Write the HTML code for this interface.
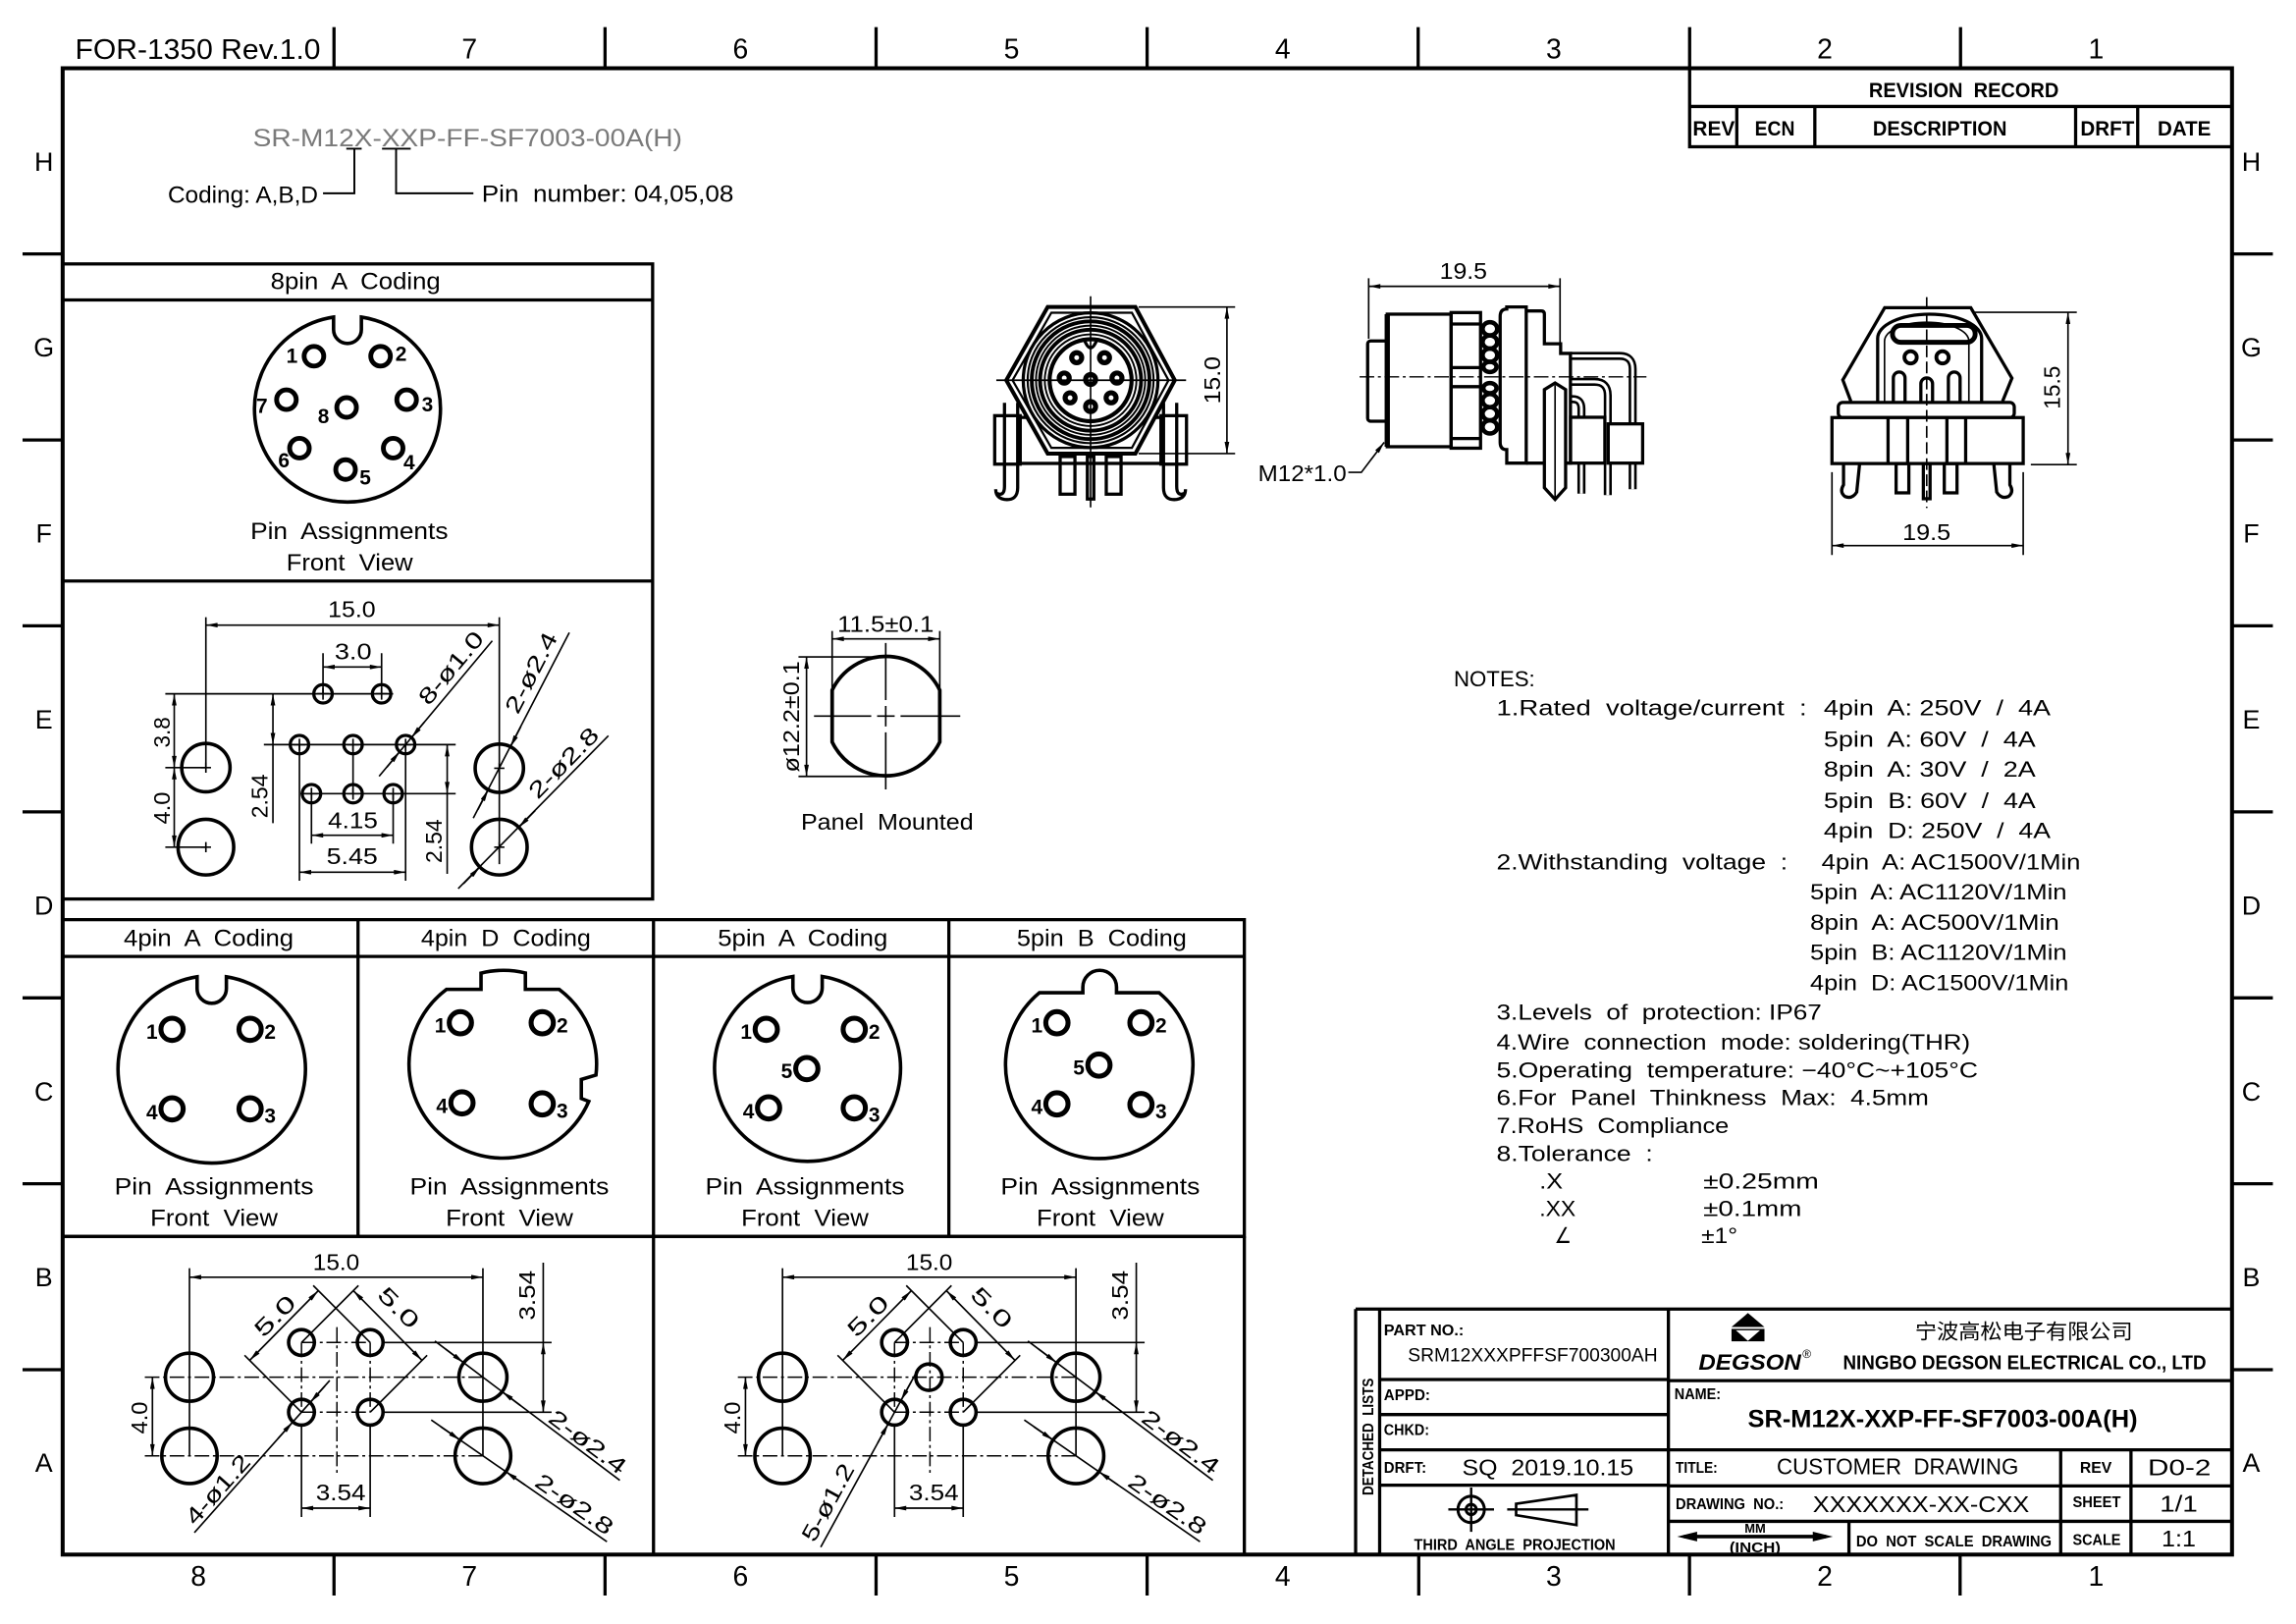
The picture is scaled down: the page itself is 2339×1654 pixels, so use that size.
<!DOCTYPE html>
<html><head><meta charset="utf-8"><title>SR-M12X-XXP-FF-SF7003-00A(H)</title>
<style>
html,body{margin:0;padding:0;background:#fff;overflow:hidden}
svg{display:block}
.d{stroke:#000;stroke-width:1.1;fill:none}
.m{stroke:#000;stroke-width:2.2;fill:none}
.k{stroke:#000;stroke-width:2.7;fill:none}
.c{stroke:#000;stroke-width:1;fill:none;stroke-dasharray:10 2.5 2 2.5}
.r{stroke:#000;stroke-width:3.3;fill:none}
.aa{marker-start:url(#a);marker-end:url(#a)}
.ae{marker-end:url(#a)}
text{font-family:"Liberation Sans","DejaVu Sans","Noto Sans CJK SC",sans-serif;fill:#000;stroke:none;white-space:pre}
.b{font-weight:bold}
</style></head><body>
<svg xmlns="http://www.w3.org/2000/svg" width="2339" height="1654" viewBox="0 0 1568 1108.8" preserveAspectRatio="none">
<defs>
<marker id="a" viewBox="0 0 10 4" refX="10" refY="2" markerWidth="9" markerHeight="3.2" markerUnits="userSpaceOnUse" orient="auto-start-reverse"><path d="M0,0 L10,2 L0,4 z" fill="#000"/></marker>
</defs>
<rect width="1568" height="1108.8" fill="#fff"/>

<!-- FRAME -->
<rect class="k" x="42.8" y="46.6" width="1481.5" height="1014.8"/>
<path class="m" d="M228.1,18.5V46.6M413.2,18.5V46.6M598.3,18.5V46.6M783.4,18.5V46.6M968.5,18.5V46.6M1153.9,18.5V46.6M1338.9,18.5V46.6"/>
<path class="m" d="M228.1,1061.4V1089.4M413.2,1061.4V1089.4M598.3,1061.4V1089.4M783.4,1061.4V1089.4M968.9,1061.4V1089.4M1153.8,1061.4V1089.4M1338.6,1061.4V1089.4"/>
<path class="m" d="M15.4,173.4H42.8M15.4,300.4H42.8M15.4,427.3H42.8M15.4,554.3H42.8M15.4,681.3H42.8M15.4,808.2H42.8M15.4,935.2H42.8"/>
<path class="m" d="M1524.3,173.4H1552.2M1524.3,300.4H1552.2M1524.3,427.3H1552.2M1524.3,554.3H1552.2M1524.3,681.3H1552.2M1524.3,808.2H1552.2M1524.3,935.2H1552.2"/>
<g font-size="19" text-anchor="middle">
<text x="320.6" y="39.8">7</text><text x="505.7" y="39.8">6</text><text x="690.8" y="39.8">5</text><text x="876" y="39.8">4</text><text x="1061.1" y="39.8">3</text><text x="1246.2" y="39.8">2</text><text x="1431.5" y="39.8">1</text>
<text x="135.5" y="1082.7">8</text><text x="320.6" y="1082.7">7</text><text x="505.7" y="1082.7">6</text><text x="690.8" y="1082.7">5</text><text x="876" y="1082.7">4</text><text x="1061.1" y="1082.7">3</text><text x="1246.2" y="1082.7">2</text><text x="1431.5" y="1082.7">1</text>
</g>
<g font-size="18" text-anchor="middle">
<text x="30" y="116.6">H</text><text x="30" y="243.5">G</text><text x="30" y="370.5">F</text><text x="30" y="497.4">E</text><text x="30" y="624.4">D</text><text x="30" y="751.4">C</text><text x="30" y="878.3">B</text><text x="30" y="1004.9">A</text>
<text x="1537.5" y="116.6">H</text><text x="1537.5" y="243.5">G</text><text x="1537.5" y="370.5">F</text><text x="1537.5" y="497.4">E</text><text x="1537.5" y="624.4">D</text><text x="1537.5" y="751.4">C</text><text x="1537.5" y="878.3">B</text><text x="1537.5" y="1004.9">A</text>
</g>
<text x="51.3" y="40.3" font-size="19" textLength="167.6" lengthAdjust="spacingAndGlyphs">FOR-1350 Rev.1.0</text>

<!-- PART NUMBER EXPLANATION -->
<text x="172.7" y="99.9" font-size="16.5" fill="#7a7a7a" style="fill:#7a7a7a" textLength="293.2" lengthAdjust="spacingAndGlyphs">SR-M12X-XXP-FF-SF7003-00A(H)</text>
<path class="d" d="M236.5,101.5H247M260.9,101.5H280.5M242,101.5V132H220.6M270.5,101.5V132H323.3" style="stroke-width:1.3"/>
<text x="114.6" y="138.6" font-size="16" textLength="102.6" lengthAdjust="spacingAndGlyphs">Coding: A,B,D</text>
<text x="329" y="137.8" font-size="16" textLength="172" lengthAdjust="spacingAndGlyphs">Pin  number: 04,05,08</text>

<!-- REVISION RECORD -->
<rect class="m" x="1153.9" y="46.7" width="370.4" height="53.5"/>
<path class="m" d="M1153.9,72.7H1524.3M1186.1,72.7V100.2M1239.4,72.7V100.2M1417.5,72.7V100.2M1459.9,72.7V100.2"/>
<g class="b" font-size="14.5">
<text x="1276.3" y="66.3" textLength="129.7" lengthAdjust="spacingAndGlyphs">REVISION  RECORD</text>
<text x="1156" y="92.5" textLength="28.7" lengthAdjust="spacingAndGlyphs">REV</text>
<text x="1198.4" y="92.5" textLength="27.3" lengthAdjust="spacingAndGlyphs">ECN</text>
<text x="1279" y="92.5" textLength="91.5" lengthAdjust="spacingAndGlyphs">DESCRIPTION</text>
<text x="1420.8" y="92.5" textLength="36.8" lengthAdjust="spacingAndGlyphs">DRFT</text>
<text x="1473.5" y="92.5" textLength="36.4" lengthAdjust="spacingAndGlyphs">DATE</text>
</g>

<!-- 8PIN BOX -->
<rect class="m" x="42.8" y="180.2" width="402.9" height="433.6"/>
<path class="m" d="M42.8,204.8H445.7M42.8,396.7H445.7"/>
<text x="242.8" y="197.4" font-size="16" text-anchor="middle" textLength="116" lengthAdjust="spacingAndGlyphs">8pin  A  Coding</text>
<path class="m" style="stroke-width:2.4" d="M227.8,216.5 L227.8,225 A9.5,9.5 0 0 0 246.8,225 L246.8,216.5 A63.5,63.5 0 1 1 227.8,216.5 Z"/>
<g class="r" style="stroke-width:3.3">
<circle cx="214.4" cy="243.2" r="6.7"/><circle cx="259.9" cy="243.2" r="6.7"/><circle cx="195.6" cy="272.9" r="6.7"/><circle cx="236.7" cy="278.2" r="6.7"/><circle cx="277.7" cy="272.9" r="6.7"/><circle cx="204.5" cy="306" r="6.7"/><circle cx="268.5" cy="306" r="6.7"/><circle cx="236" cy="320.6" r="6.7"/>
</g>
<g class="b" font-size="14">
<text x="195.5" y="247.7">1</text><text x="270" y="246.4">2</text><text x="175" y="282">7</text><text x="217" y="289">8</text><text x="288" y="281">3</text><text x="190" y="319">6</text><text x="275.5" y="320.6">4</text><text x="245.5" y="331">5</text>
</g>
<text x="171" y="368" font-size="16" textLength="135" lengthAdjust="spacingAndGlyphs">Pin  Assignments</text>
<text x="195.6" y="389.5" font-size="16" textLength="86.4" lengthAdjust="spacingAndGlyphs">Front  View</text>

<!-- 8PIN FOOTPRINT -->
<g class="m" style="stroke-width:2.4">
<circle cx="140.6" cy="524.1" r="16.5"/><circle cx="140.6" cy="578.4" r="19"/><circle cx="341" cy="524.5" r="16.5"/><circle cx="341" cy="578.4" r="19"/>
</g>
<g class="m">
<circle cx="220.6" cy="473.7" r="6.3"/><circle cx="260.6" cy="473.7" r="6.3"/><circle cx="204.5" cy="508.4" r="6.3"/><circle cx="241.1" cy="508.4" r="6.3"/><circle cx="277" cy="508.4" r="6.3"/><circle cx="212.7" cy="541.9" r="6.3"/><circle cx="241.1" cy="541.9" r="6.3"/><circle cx="268.5" cy="541.9" r="6.3"/>
</g>
<path class="d" d="M216.6,473.7H224.6M220.6,469.7V477.7M256.6,473.7H264.6M260.6,469.7V477.7M200.5,508.4H208.5M204.5,504.4V512.4M237.1,508.4H245.1M241.1,504.4V512.4M273,508.4H281M277,504.4V512.4M208.7,541.9H216.7M212.7,537.9V545.9M237.1,541.9H245.1M241.1,537.9V545.9M264.5,541.9H272.5M268.5,537.9V545.9M137.1,524.1H144.1M140.6,520.6V527.6M137.1,578.4H144.1M140.6,574.9V581.9M337.5,524.5H344.5M341,521V528M337.5,578.4H344.5M341,574.9V581.9"/>
<path class="d" d="M140.6,421.4V524.1M341,421.4V590M112.9,473.7H268.5M180.2,508.4H311.2M205.2,541.9H311.2M112.9,524.1H140.6M112.9,578.4H140.6M186.4,508.4V562M305.4,541.9V596.6M220.6,446V473.7M260.6,446V473.7M212.7,541.9V576M268.5,541.9V576M204.5,508.4V601.3M277,508.4V601.3M241.1,508.4V541.9"/>
<line class="d aa" x1="140.6" y1="426.8" x2="341" y2="426.8"/>
<line class="d aa" x1="119" y1="473.7" x2="119" y2="524.1"/>
<line class="d aa" x1="119" y1="524.1" x2="119" y2="578.4"/>
<line class="d aa" x1="186.4" y1="473.7" x2="186.4" y2="508.4"/>
<line class="d aa" x1="305.4" y1="508.4" x2="305.4" y2="541.9"/>
<line class="d aa" x1="220.6" y1="455.4" x2="260.6" y2="455.4"/>
<line class="d aa" x1="212.7" y1="570.3" x2="268.5" y2="570.3"/>
<line class="d aa" x1="204.5" y1="595.5" x2="277" y2="595.5"/>
<path class="d" d="M336.2,437.5L258.9,530M388.8,431.9L323.2,558.6M415.5,502.3L312.9,606.7"/>
<line class="d ae" x1="289.8" y1="493" x2="281" y2="503.6"/><line class="d ae" x1="264.2" y1="523.8" x2="273" y2="513.2"/>
<line class="d ae" x1="355.7" y1="496.1" x2="348.6" y2="509.9"/><line class="d ae" x1="326.3" y1="552.9" x2="333.4" y2="539.2"/>
<line class="d ae" x1="365.5" y1="553.4" x2="354.3" y2="564.9"/><line class="d ae" x1="316.5" y1="603.4" x2="327.7" y2="592"/>
<g font-size="15.5">
<text x="224" y="421.5" textLength="32.5" lengthAdjust="spacingAndGlyphs">15.0</text>
<text x="228.5" y="450.3" textLength="25.3" lengthAdjust="spacingAndGlyphs">3.0</text>
<text x="224" y="565.6" textLength="34" lengthAdjust="spacingAndGlyphs">4.15</text>
<text x="223" y="589.9" textLength="35" lengthAdjust="spacingAndGlyphs">5.45</text>
<text transform="translate(110.3,500) rotate(-90)" y="5.5" text-anchor="middle" textLength="21" lengthAdjust="spacingAndGlyphs">3.8</text>
<text transform="translate(110.3,551.7) rotate(-90)" y="5.5" text-anchor="middle" textLength="22" lengthAdjust="spacingAndGlyphs">4.0</text>
<text transform="translate(177,543.6) rotate(-90)" y="5.5" text-anchor="middle" textLength="30" lengthAdjust="spacingAndGlyphs">2.54</text>
<text transform="translate(296.3,574.3) rotate(-90)" y="5.5" text-anchor="middle" textLength="30" lengthAdjust="spacingAndGlyphs">2.54</text>
<text transform="translate(307.8,455.9) rotate(-50.1)" y="5.5" text-anchor="middle" textLength="60" lengthAdjust="spacingAndGlyphs">8-ø1.0</text>
<text transform="translate(362.5,459.2) rotate(-62.6)" y="5.5" text-anchor="middle" textLength="60" lengthAdjust="spacingAndGlyphs">2-ø2.4</text>
<text transform="translate(384.7,520.7) rotate(-45.5)" y="5.5" text-anchor="middle" textLength="61" lengthAdjust="spacingAndGlyphs">2-ø2.8</text>
</g>

<!-- PANEL MOUNTED -->
<path class="m" style="stroke-width:2.5" d="M568.3,471.2 A40.8,40.8 0 0 1 641.8,471.2 L641.8,506.6 A40.8,40.8 0 0 1 568.3,506.6 Z"/>
<path class="d" d="M555.9,488.9H595M599,488.9H611M615,488.9H655.8M604.9,439V478M604.9,482V496M604.9,500V539M568.3,430.8V471M641.8,430.8V471M545.3,448.5H605M545.3,530.1H605"/>
<line class="d aa" x1="568.3" y1="436.2" x2="641.8" y2="436.2"/>
<line class="d aa" x1="550.8" y1="448.5" x2="550.8" y2="530.1"/>
<g font-size="15.5">
<text x="571.9" y="431.3" textLength="65.9" lengthAdjust="spacingAndGlyphs">11.5±0.1</text>
<text transform="translate(540.2,489.3) rotate(-90)" y="5.5" text-anchor="middle" textLength="76" lengthAdjust="spacingAndGlyphs">ø12.2±0.1</text>
<text x="547" y="566.5" textLength="117.8" lengthAdjust="spacingAndGlyphs">Panel  Mounted</text>
</g>

<!-- FRONT VIEW -->
<rect class="m" x="696.7" y="285" width="96.2" height="31.4"/>
<rect class="m" x="679.3" y="283.8" width="17.4" height="33.1"/>
<rect class="m" x="792.9" y="283.8" width="17.4" height="33.1"/>
<path class="m" d="M686,275V332Q686,339 681,337M695,275V333Q695,342 686,341Q680,340 680,334"/>
<path class="m" d="M803.6,275V332Q803.6,339 808.6,337M794.6,275V333Q794.6,342 803.6,341Q809.6,340 809.6,334"/>
<rect class="m" x="724" y="311.7" width="10.1" height="25.7"/>
<rect class="m" x="755.5" y="311.7" width="10.1" height="25.7"/>
<rect class="m" x="742.6" y="311.7" width="4.4" height="29"/>
<polygon class="k" style="fill:#fff" points="715.5,209.6 775.4,209.6 802.3,259.6 775.4,309.7 715.5,309.7 687.2,259.6"/>
<polygon class="d" style="stroke-width:1.5" points="718,213.5 773,213.5 798,259.6 773,305.8 718,305.8 691.5,259.6"/>
<g fill="none" stroke="#000">
<circle cx="744.8" cy="259.6" r="46" stroke-width="2.2"/>
<circle cx="744.8" cy="259.6" r="43" stroke-width="1.4"/>
<circle cx="744.8" cy="259.6" r="40.2" stroke-width="2.6"/>
<circle cx="744.8" cy="259.6" r="37.3" stroke-width="1.3"/>
<circle cx="744.8" cy="259.6" r="34.5" stroke-width="2.6"/>
<circle cx="744.8" cy="259.6" r="31.3" stroke-width="1.3"/>
<circle cx="744.8" cy="259.6" r="28" stroke-width="2.8"/>
</g>
<path class="m" d="M740.5,232Q744.8,243 749.1,232"/>
<g fill="none" stroke="#000" stroke-width="3.5">
<circle cx="735.3" cy="244.2" r="3.4"/><circle cx="754.3" cy="244.2" r="3.4"/><circle cx="726.8" cy="258.1" r="3.4"/><circle cx="762.8" cy="258.1" r="3.4"/><circle cx="744.8" cy="259.1" r="3.4"/><circle cx="730.8" cy="271.6" r="3.4"/><circle cx="758.8" cy="271.6" r="3.4"/><circle cx="744.8" cy="277.6" r="3.4"/>
</g>
<path class="d" d="M744.8,202.3V346.4M680.4,259.6H810"/>
<path class="d" d="M777.6,209.6H843.5M777.6,309.7H843.5"/>
<line class="d aa" x1="837.9" y1="209.6" x2="837.9" y2="309.7"/>
<text transform="translate(827.9,259.6) rotate(-90)" y="5.5" font-size="15.5" text-anchor="middle" textLength="32.4" lengthAdjust="spacingAndGlyphs">15.0</text>

<!-- SIDE VIEW -->
<path d="M1072.5,243H1106Q1115,243 1115,252V334" fill="none" stroke="#000" stroke-width="5.5"/>
<path d="M1072.5,243H1106Q1115,243 1115,252V334" fill="none" stroke="#fff" stroke-width="2"/>
<path d="M1072.5,260.7H1089Q1098,260.7 1098,270V338" fill="none" stroke="#000" stroke-width="5.5"/>
<path d="M1072.5,260.7H1089Q1098,260.7 1098,270V338" fill="none" stroke="#fff" stroke-width="2"/>
<path d="M1072.5,272.5H1074Q1080,272.5 1080,279V337" fill="none" stroke="#000" stroke-width="5.5"/>
<path d="M1072.5,272.5H1074Q1080,272.5 1080,279V337" fill="none" stroke="#fff" stroke-width="2"/>
<rect class="m" x="1072.6" y="284.9" width="23.4" height="31.3" style="fill:#fff"/>
<rect class="m" x="1098.3" y="289.4" width="23.5" height="26.8" style="fill:#fff"/>
<rect class="m" x="934" y="232.8" width="13.4" height="54.8" rx="2"/>
<rect class="m" x="947.4" y="214.5" width="43.6" height="90.5"/>
<line x1="947.4" y1="214.5" x2="947.4" y2="305" stroke="#000" stroke-width="3.6"/>
<rect class="m" x="991" y="213.4" width="20.1" height="92.6"/>
<path class="m" d="M991,221.2H1011.1M991,251H1011.1M991,264H1011.1M991,299.4H1011.1"/>
<g fill="none" stroke="#000" stroke-width="3">
<ellipse cx="1017.5" cy="224.5" rx="5" ry="4.5"/><ellipse cx="1017.5" cy="233.5" rx="5" ry="4.5"/><ellipse cx="1017.5" cy="242.5" rx="5" ry="4.5"/><ellipse cx="1017.5" cy="250.5" rx="4.5" ry="3.5"/>
<ellipse cx="1017.5" cy="265" rx="4.5" ry="3.5"/><ellipse cx="1017.5" cy="273.5" rx="5" ry="4.5"/><ellipse cx="1017.5" cy="282.5" rx="5" ry="4.5"/><ellipse cx="1017.5" cy="291.5" rx="5" ry="4.5"/>
</g>
<path class="m" style="fill:#fff" d="M1029,209.6H1042.3V316.2H1029V307Q1024.5,307 1024.5,302V216Q1024.5,211 1029,211Z"/>
<path class="m" d="M1042.3,212.3H1052.5Q1054.7,212.3 1054.7,214.5V234.7H1065.8V241.3H1072.5V316.2H1042.3"/>
<path class="m" style="fill:#fff" d="M1054.7,266L1062,261.5L1069.2,266V333L1062,341L1054.7,333Z"/>
<path class="d" d="M1062,263V340"/>
<line class="c" x1="928.5" y1="257.3" x2="1124.4" y2="257.3"/>
<path class="d" d="M934.7,190V231.3M1065.4,190V234.7"/>
<line class="d aa" x1="934.7" y1="195.5" x2="1065.4" y2="195.5"/>
<text x="983.2" y="190.4" font-size="15.5" textLength="32.4" lengthAdjust="spacingAndGlyphs">19.5</text>
<text x="859.2" y="328.5" font-size="15.5" textLength="60.3" lengthAdjust="spacingAndGlyphs">M12*1.0</text>
<polyline class="d ae" points="920.8,322.5 929.7,322.5 945.3,302"/>

<!-- RIGHT VIEW -->
<path class="m" d="M1264,274L1258.5,259.4L1287.1,210.1H1345.9L1374,258.2L1367.6,274"/>
<path class="m" d="M1282.3,285V231A35.5,16.5 0 0 1 1353.3,231V285"/>
<path class="d" d="M1287,285V233A28.8,13 0 0 1 1344.6,233V285"/>
<rect class="r" x="1292.4" y="222.2" width="56.5" height="11.5" rx="5.7"/>
<circle cx="1304.8" cy="244" r="4.2" fill="none" stroke="#000" stroke-width="2.6"/>
<circle cx="1326.6" cy="244" r="4.2" fill="none" stroke="#000" stroke-width="2.6"/>
<path class="m" d="M1293,285V258A4,4 0 0 1 1301,258V285M1311.8,285V262A4,4 0 0 1 1319.8,262V285M1330.6,285V258A4,4 0 0 1 1338.6,258V285"/>
<rect class="m" x="1255.4" y="274.8" width="120.2" height="10.3" rx="3" style="fill:#fff"/>
<rect class="m" x="1251.1" y="285.1" width="130.6" height="31.4" style="fill:#fff"/>
<path class="m" d="M1289.4,285.1V316.5M1342.4,285.1V316.5M1302.8,285.1V316.5M1329.6,285.1V316.5"/>
<path class="m" d="M1259,316.5V331Q1256,336 1260,339Q1265,341 1268,336L1270,316.5M1372.6,316.5V331Q1375.6,336 1371.6,339Q1366.6,341 1363.6,336L1361.6,316.5"/>
<rect class="m" x="1294.9" y="316.5" width="8.7" height="20"/>
<rect class="m" x="1327.8" y="316.5" width="8.7" height="20"/>
<rect class="m" x="1313.5" y="316.5" width="4.6" height="24"/>
<line class="d" x1="1315.8" y1="202.9" x2="1315.8" y2="346.8" style="stroke-dasharray:8 3"/>
<path class="d" d="M1347.3,213.2H1418.3M1386.9,317.2H1418.3M1251.1,322.4V378.9M1381.7,322.4V378.9"/>
<line class="d aa" x1="1412.3" y1="213.2" x2="1412.3" y2="317.2"/>
<line class="d aa" x1="1251.1" y1="372.5" x2="1381.7" y2="372.5"/>
<text transform="translate(1401.4,264.6) rotate(-90)" y="5.5" font-size="15.5" text-anchor="middle" textLength="29.5" lengthAdjust="spacingAndGlyphs">15.5</text>
<text x="1299.3" y="368.6" font-size="15.5" textLength="32.8" lengthAdjust="spacingAndGlyphs">19.5</text>

<!-- CODING BOXES -->
<rect class="m" x="42.8" y="627.9" width="807" height="216.3"/>
<path class="m" d="M42.8,653H849.8M244.5,627.9V844.2M446.3,627.9V1061.4M648,627.9V844.2M849.8,844.2V1061.4M42.8,844.2H849.8"/>
<g font-size="16" text-anchor="middle">
<text x="142.5" y="645.8" textLength="116" lengthAdjust="spacingAndGlyphs">4pin  A  Coding</text>
<text x="345.5" y="645.8" textLength="116" lengthAdjust="spacingAndGlyphs">4pin  D  Coding</text>
<text x="548.2" y="645.8" textLength="116" lengthAdjust="spacingAndGlyphs">5pin  A  Coding</text>
<text x="752.4" y="645.8" textLength="116" lengthAdjust="spacingAndGlyphs">5pin  B  Coding</text>
<text x="146.2" y="815.6" textLength="136" lengthAdjust="spacingAndGlyphs">Pin  Assignments</text>
<text x="347.9" y="815.6" textLength="136" lengthAdjust="spacingAndGlyphs">Pin  Assignments</text>
<text x="549.7" y="815.6" textLength="136" lengthAdjust="spacingAndGlyphs">Pin  Assignments</text>
<text x="751.4" y="815.6" textLength="136" lengthAdjust="spacingAndGlyphs">Pin  Assignments</text>
<text x="146.2" y="836.9" textLength="87" lengthAdjust="spacingAndGlyphs">Front  View</text>
<text x="347.9" y="836.9" textLength="87" lengthAdjust="spacingAndGlyphs">Front  View</text>
<text x="549.7" y="836.9" textLength="87" lengthAdjust="spacingAndGlyphs">Front  View</text>
<text x="751.4" y="836.9" textLength="87" lengthAdjust="spacingAndGlyphs">Front  View</text>
</g>
<g class="m" style="stroke-width:2.4">
<path d="M134.6,666.9L134.6,675A10,10 0 0 0 154.6,675L154.6,666.9A64,64 0 1 1 134.6,666.9Z"/>
<path d="M304.9,675.5L328.5,675.5L328.5,664.4A64,64 0 0 1 358.8,664.3L358.8,675.5L381.9,675.5A64,64 0 0 1 407,734L397,737L397,750L402.1,752A64,64 0 1 1 304.9,675.5Z"/>
<path d="M541.5,666.7L541.5,674.5A10,10 0 0 0 561.5,674.5L561.5,666.7A63.5,63.5 0 1 1 541.5,666.7Z"/>
<path d="M709.8,677.8L739.5,677.8L739.5,674A11.5,11.5 0 0 1 762.5,674L762.5,677.8L791.6,677.8A64,64 0 1 1 709.8,677.8Z"/>
</g>
<g fill="none" stroke="#000" stroke-width="3.4">
<circle cx="117.5" cy="702.8" r="7.6"/><circle cx="170.8" cy="702.8" r="7.6"/><circle cx="117.5" cy="757.1" r="7.6"/><circle cx="170.8" cy="757.1" r="7.6"/>
<circle cx="314.4" cy="698.3" r="7.6"/><circle cx="370.3" cy="698.3" r="7.6"/><circle cx="315.5" cy="753" r="7.6"/><circle cx="370.3" cy="753.7" r="7.6"/>
<circle cx="523.3" cy="702.8" r="7.6"/><circle cx="583.4" cy="702.8" r="7.6"/><circle cx="551" cy="729.6" r="7.6"/><circle cx="524.9" cy="756.4" r="7.6"/><circle cx="583.4" cy="756.4" r="7.6"/>
<circle cx="721.8" cy="698.3" r="7.6"/><circle cx="779.2" cy="698.3" r="7.6"/><circle cx="750.5" cy="727.2" r="7.6"/><circle cx="721.8" cy="753.7" r="7.6"/><circle cx="779.2" cy="754.2" r="7.6"/>
</g>
<g class="b" font-size="14">
<text x="107.7" y="709.3" text-anchor="end">1</text><text x="180.6" y="709.3">2</text><text x="107.7" y="764.1" text-anchor="end">4</text><text x="180.6" y="766.6">3</text>
<text x="304.6" y="704.8" text-anchor="end">1</text><text x="380.1" y="704.8">2</text><text x="305.7" y="760" text-anchor="end">4</text><text x="380.1" y="763.2">3</text>
<text x="513.5" y="709.3" text-anchor="end">1</text><text x="593.2" y="709.3">2</text><text x="541.2" y="736.1" text-anchor="end">5</text><text x="515.1" y="763.4" text-anchor="end">4</text><text x="593.2" y="765.9">3</text>
<text x="712" y="704.8" text-anchor="end">1</text><text x="789" y="704.8">2</text><text x="740.7" y="733.7" text-anchor="end">5</text><text x="712" y="760.7" text-anchor="end">4</text><text x="789" y="763.7">3</text>
</g>

<!-- 4PIN FOOTPRINT + 5PIN (shared) -->
<g id="fp">
<g class="m" style="stroke-width:2.4">
<circle cx="129.4" cy="940.3" r="16.4"/><circle cx="129.4" cy="994" r="18.9"/><circle cx="329.8" cy="940.3" r="16.4"/><circle cx="329.8" cy="994" r="19"/>
<circle cx="205.9" cy="916.6" r="8.8"/><circle cx="252.8" cy="916.6" r="8.8"/><circle cx="205.9" cy="964.2" r="8.8"/><circle cx="252.8" cy="964.2" r="8.8"/>
</g>
<path class="d" d="M129.4,865.9V994M329.8,865.9V994M261.9,916.6H376.7M261.9,964.2H376.7M205.9,973V1035.7M252.8,973V1035.7M371,862.1V916.6M205.9,964.2L167,925.3M252.8,916.6L213.9,877.7M205.9,916.6L244.8,877.7M252.8,964.2L291.7,925.3"/>
<path class="c" d="M98.9,940.3H329.8M98.9,994H329.8M205.9,916.6H252.8M205.9,964.2H252.8M205.9,916.6V964.2M252.8,916.6V964.2M230.1,906.1V1007.8"/>
<line class="d aa" x1="129.4" y1="872" x2="329.8" y2="872"/>
<line class="d aa" x1="104.1" y1="940.3" x2="104.1" y2="994"/>
<line class="d aa" x1="205.9" y1="1029.7" x2="252.8" y2="1029.7"/>
<line class="d aa" x1="371" y1="916.6" x2="371" y2="964.2"/>
<line class="d aa" x1="170.5" y1="928.8" x2="217.4" y2="881.2"/>
<line class="d aa" x1="241.3" y1="881.2" x2="288.2" y2="928.8"/>
<path class="d" d="M297,915.6L423.3,1010.7M294.5,969.5L414.5,1052.6"/>
<line class="d ae" x1="304.2" y1="921" x2="316.7" y2="930.4"/><line class="d ae" x1="355.4" y1="959.6" x2="342.9" y2="950.2"/>
<line class="d ae" x1="301" y1="974.1" x2="314.2" y2="983.2"/><line class="d ae" x1="358.6" y1="1013.9" x2="345.4" y2="1004.8"/>
<g font-size="15.5">
<text x="213.7" y="867" textLength="31.8" lengthAdjust="spacingAndGlyphs">15.0</text>
<text x="215.7" y="1024.5" textLength="34" lengthAdjust="spacingAndGlyphs">3.54</text>
<text transform="translate(95,968) rotate(-90)" y="5.5" text-anchor="middle" textLength="22" lengthAdjust="spacingAndGlyphs">4.0</text>
<text transform="translate(359.8,884.4) rotate(-90)" y="5.5" text-anchor="middle" textLength="34" lengthAdjust="spacingAndGlyphs">3.54</text>
<text transform="translate(187.6,898.3) rotate(-45)" y="5.5" text-anchor="middle" textLength="33" lengthAdjust="spacingAndGlyphs">5.0</text>
<text transform="translate(272.4,892.7) rotate(45)" y="5.5" text-anchor="middle" textLength="33" lengthAdjust="spacingAndGlyphs">5.0</text>
<text transform="translate(401.5,984.3) rotate(37)" y="5.5" text-anchor="middle" textLength="62" lengthAdjust="spacingAndGlyphs">2-ø2.4</text>
<text transform="translate(392.4,1026.8) rotate(34.7)" y="5.5" text-anchor="middle" textLength="61" lengthAdjust="spacingAndGlyphs">2-ø2.8</text>
</g>
</g>
<!-- 4pin leader -->
<path class="d" d="M132.75,1046.4L225.2,942.5"/>
<line class="d ae" x1="189.9" y1="982.1" x2="199.9" y2="970.9"/><line class="d ae" x1="221.9" y1="946.3" x2="211.9" y2="957.5"/>
<text transform="translate(148.5,1016.8) rotate(-48.3)" y="5.5" font-size="15.5" text-anchor="middle" textLength="58" lengthAdjust="spacingAndGlyphs">4-ø1.2</text>
<!-- 5pin -->
<use href="#fp" transform="translate(405,0)"/>
<circle class="m" style="stroke-width:2.4" cx="634.4" cy="940.3" r="9"/>
<path class="d" d="M560.5,1056.3L626.3,936.1"/>
<line class="d ae" x1="599.4" y1="985.2" x2="606.6" y2="972.1"/><line class="d ae" x1="622.4" y1="943.2" x2="615.2" y2="956.3"/>
<text transform="translate(565.2,1025.7) rotate(-61.3)" y="5.5" font-size="15.5" text-anchor="middle" textLength="58" lengthAdjust="spacingAndGlyphs">5-ø1.2</text>

<!-- NOTES -->
<g font-size="15">
<text x="992.8" y="468.5" textLength="55.5" lengthAdjust="spacingAndGlyphs">NOTES:</text>
<text x="1022" y="488.4" textLength="211.9" lengthAdjust="spacingAndGlyphs">1.Rated  voltage/current  :</text>
<text x="1245.5" y="488.4" textLength="154.9" lengthAdjust="spacingAndGlyphs">4pin  A: 250V  /  4A</text>
<text x="1245.5" y="509.7" textLength="144.7" lengthAdjust="spacingAndGlyphs">5pin  A: 60V  /  4A</text>
<text x="1245.5" y="530.3" textLength="144.7" lengthAdjust="spacingAndGlyphs">8pin  A: 30V  /  2A</text>
<text x="1245.5" y="551.7" textLength="144.7" lengthAdjust="spacingAndGlyphs">5pin  B: 60V  /  4A</text>
<text x="1245.5" y="572.3" textLength="154.9" lengthAdjust="spacingAndGlyphs">4pin  D: 250V  /  4A</text>
<text x="1022" y="593.5" textLength="198.8" lengthAdjust="spacingAndGlyphs">2.Withstanding  voltage  :</text>
<text x="1244" y="593.5" textLength="176.8" lengthAdjust="spacingAndGlyphs">4pin  A: AC1500V/1Min</text>
<text x="1236.2" y="614.1" textLength="175.3" lengthAdjust="spacingAndGlyphs">5pin  A: AC1120V/1Min</text>
<text x="1236.2" y="634.8" textLength="170.1" lengthAdjust="spacingAndGlyphs">8pin  A: AC500V/1Min</text>
<text x="1236.2" y="655.4" textLength="175.3" lengthAdjust="spacingAndGlyphs">5pin  B: AC1120V/1Min</text>
<text x="1236.2" y="676" textLength="176.5" lengthAdjust="spacingAndGlyphs">4pin  D: AC1500V/1Min</text>
<text x="1022" y="696.2" textLength="222.1" lengthAdjust="spacingAndGlyphs">3.Levels  of  protection: IP67</text>
<text x="1022" y="716.8" textLength="323.5" lengthAdjust="spacingAndGlyphs">4.Wire  connection  mode: soldering(THR)</text>
<text x="1022" y="735.8" textLength="328.8" lengthAdjust="spacingAndGlyphs">5.Operating  temperature: −40°C~+105°C</text>
<text x="1022" y="754.6" textLength="295.2" lengthAdjust="spacingAndGlyphs">6.For  Panel  Thinkness  Max:  4.5mm</text>
<text x="1022" y="773.5" textLength="158.7" lengthAdjust="spacingAndGlyphs">7.RoHS  Compliance</text>
<text x="1022" y="792.6" textLength="106.7" lengthAdjust="spacingAndGlyphs">8.Tolerance  :</text>
<text x="1051.3" y="811.4" textLength="16" lengthAdjust="spacingAndGlyphs">.X</text>
<text x="1163.2" y="811.4" textLength="78.9" lengthAdjust="spacingAndGlyphs">±0.25mm</text>
<text x="1051.3" y="830.2" textLength="24.8" lengthAdjust="spacingAndGlyphs">.XX</text>
<text x="1163.2" y="830.2" textLength="67.2" lengthAdjust="spacingAndGlyphs">±0.1mm</text>
<text x="1061.5" y="848.8" textLength="11.7" lengthAdjust="spacingAndGlyphs">∠</text>
<text x="1161.8" y="848.8" textLength="24.8" lengthAdjust="spacingAndGlyphs">±1°</text>
</g>

<!-- TITLE BLOCK -->
<path class="m" d="M925.8,893.8H1524.3M925.8,893.8V1061.4M942.2,893.8V1061.4M1139.4,893.8V1061.4M942.2,941.9H1139.4M942.2,965.8H1139.4M942.2,989.9H1139.4M942.2,1014H1139.4M1139.4,942.6H1524.3M1139.4,989.9H1524.3M1139.4,1014.5H1524.3M1139.4,1038.7H1524.3M1407.3,989.9V1061.4M1455.3,989.9V1061.4M1262.7,1038.7V1061.4"/>
<text transform="translate(934,981) rotate(-90)" y="3.8" class="b" font-size="10.5" text-anchor="middle" textLength="80" lengthAdjust="spacingAndGlyphs">DETACHED  LISTS</text>
<g class="b" font-size="10.5">
<text x="945.1" y="911.7" textLength="54.6" lengthAdjust="spacingAndGlyphs">PART NO.:</text>
<text x="945.1" y="955.9" textLength="31.6" lengthAdjust="spacingAndGlyphs">APPD:</text>
<text x="945.1" y="979.9" textLength="31" lengthAdjust="spacingAndGlyphs">CHKD:</text>
<text x="945.1" y="1005.6" textLength="29" lengthAdjust="spacingAndGlyphs">DRFT:</text>
<text x="965.7" y="1058.1" textLength="137.5" lengthAdjust="spacingAndGlyphs">THIRD  ANGLE  PROJECTION</text>
<text x="1143.5" y="955.3" textLength="31.7" lengthAdjust="spacingAndGlyphs">NAME:</text>
<text x="1144.3" y="1005.6" textLength="28.7" lengthAdjust="spacingAndGlyphs">TITLE:</text>
<text x="1420.4" y="1005.6" textLength="21.8" lengthAdjust="spacingAndGlyphs">REV</text>
<text x="1144.3" y="1030.3" textLength="73.9" lengthAdjust="spacingAndGlyphs">DRAWING  NO.:</text>
<text x="1415.5" y="1029.2" textLength="32.8" lengthAdjust="spacingAndGlyphs">SHEET</text>
<text x="1267.6" y="1055.8" textLength="133.5" lengthAdjust="spacingAndGlyphs">DO  NOT  SCALE  DRAWING</text>
<text x="1415.5" y="1054.7" textLength="32.8" lengthAdjust="spacingAndGlyphs">SCALE</text>
<text x="1191.4" y="1046.5" font-size="8.5" textLength="14.4" lengthAdjust="spacingAndGlyphs">MM</text>
<text x="1181.1" y="1059.9" font-size="10" textLength="34.9" lengthAdjust="spacingAndGlyphs">(INCH)</text>
</g>
<text x="961.5" y="929.6" font-size="13" textLength="170.5" lengthAdjust="spacingAndGlyphs">SRM12XXXPFFSF700300AH</text>
<text x="998.5" y="1007.4" font-size="15.5" textLength="117.1" lengthAdjust="spacingAndGlyphs">SQ  2019.10.15</text>
<text x="1213.4" y="1006.7" font-size="15.5" textLength="165.1" lengthAdjust="spacingAndGlyphs">CUSTOMER  DRAWING</text>
<text x="1466.8" y="1007.4" font-size="15.5" textLength="43.1" lengthAdjust="spacingAndGlyphs">D0-2</text>
<text x="1238" y="1032.5" font-size="15.5" textLength="147.8" lengthAdjust="spacingAndGlyphs">XXXXXXX-XX-CXX</text>
<text x="1475" y="1032" font-size="15.5" textLength="25.8" lengthAdjust="spacingAndGlyphs">1/1</text>
<text x="1476.2" y="1055.8" font-size="15.5" textLength="23.4" lengthAdjust="spacingAndGlyphs">1:1</text>
<text x="1193.6" y="974.3" class="b" font-size="16.5" textLength="266.2" lengthAdjust="spacingAndGlyphs">SR-M12X-XXP-FF-SF7003-00A(H)</text>
<text x="1307.8" y="913.9" font-size="14" textLength="148.7" lengthAdjust="spacingAndGlyphs" style="font-family:'Liberation Sans','Noto Sans CJK SC',sans-serif">宁波高松电子有限公司</text>
<text x="1258.6" y="934.9" class="b" font-size="13.5" textLength="248.1" lengthAdjust="spacingAndGlyphs">NINGBO DEGSON ELECTRICAL CO., LTD</text>
<!-- logo -->
<polygon points="1193.7,896.5 1205,906 1182.5,906" fill="#000"/>
<rect x="1182.5" y="907.3" width="22.5" height="8.5" fill="#000"/>
<polygon points="1185.5,908.3 1202,908.3 1193.7,915.5" fill="#fff"/>
<text x="1160" y="935.2" class="b" font-size="15" font-style="italic" textLength="70" lengthAdjust="spacingAndGlyphs">DEGSON</text>
<text x="1231" y="927" font-size="8">®</text>
<!-- third angle symbol -->
<circle cx="1004.7" cy="1030.6" r="9" fill="none" stroke="#000" stroke-width="2"/>
<circle cx="1004.7" cy="1030.6" r="3.5" fill="none" stroke="#000" stroke-width="2"/>
<path class="d" style="stroke-width:1.6" d="M989.1,1030.6H1020.3M1004.7,1015.6V1045.9M1029.3,1030.6H1084.8"/>
<polygon points="1035.4,1026.7 1076.6,1020.7 1076.6,1041.2 1035.4,1034.5" fill="none" stroke="#000" stroke-width="1.8"/>
<!-- MM/INCH arrow -->
<line x1="1150" y1="1049.1" x2="1247" y2="1049.1" stroke="#000" stroke-width="2.4"/>
<polygon points="1145.4,1049.1 1159,1045.8 1159,1052.4" fill="#000"/>
<polygon points="1251.7,1049.1 1238,1045.8 1238,1052.4" fill="#000"/>
</svg>
</body></html>
